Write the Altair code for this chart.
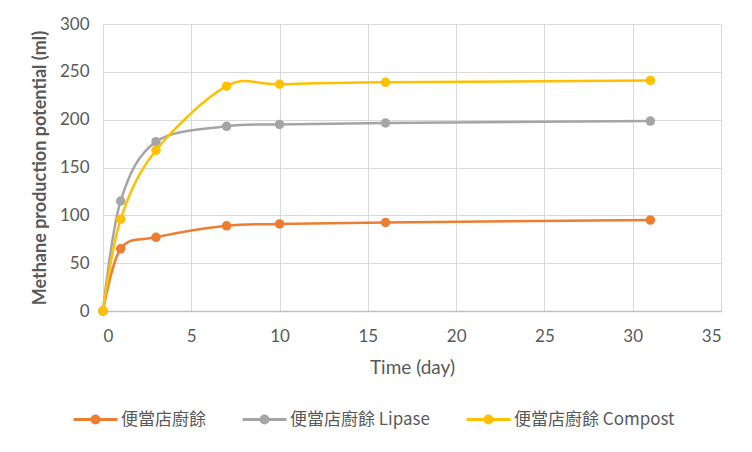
import altair as alt
import pandas as pd

days = [0, 1, 3, 7, 10, 16, 31]
series_names = ["便當店廚餘", "便當店廚餘 Lipase", "便當店廚餘 Compost"]
food_waste = [0, 65, 77, 89, 91, 92.5, 95]
lipase = [0, 115, 177, 193, 195, 196.5, 198.5]
compost = [0, 96, 168, 235, 237, 239, 241]
colors = ["#ED7D31", "#A5A5A5", "#FFC000"]

rows = []
for name, vals in zip(series_names, [food_waste, lipase, compost]):
    for d, v in zip(days, vals):
        rows.append({"day": d, "value": v, "series": name})
df = pd.DataFrame(rows)

legend_path = ("M-1,0H1"
               "M-0.159,0A0.159,0.159 0 1,0 0.159,0A0.159,0.159 0 1,0 -0.159,0"
               "M-0.068,0A0.068,0.068 0 1,0 0.068,0A0.068,0.068 0 1,0 -0.068,0")

color = alt.Color(
    "series:N",
    scale=alt.Scale(domain=series_names, range=colors),
    sort=series_names,
    legend=alt.Legend(
        title=None, orient="none", direction="horizontal",
        legendX=-31, legendY=372,
        symbolType=legend_path, symbolSize=1936, symbolStrokeWidth=3,
        labelFont="Noto Sans CJK TC", labelFontSize=17, labelColor="#595959",
        labelLimit=400, columnPadding=30, labelOffset=2,
    ),
)

x = alt.X("day:Q", title="Time (day)",
          scale=alt.Scale(domain=[0, 35], nice=False),
          axis=alt.Axis(values=list(range(0, 36, 5)), labelPadding=17, titlePadding=14,
                        domainColor="#BFBFBF", domainWidth=1.5))
y = alt.Y("value:Q", title="Methane production potential (ml)",
          scale=alt.Scale(domain=[0, 300], nice=False),
          axis=alt.Axis(values=list(range(0, 301, 50)), labelPadding=14, titlePadding=10,
                        domainColor="#D9D9D9", titleFontWeight="bold"))

base = alt.Chart(df).encode(x=x, y=y, color=color,
                            order=alt.Order("day:Q"))

lines = base.mark_line(interpolate="cardinal", strokeWidth=2.5)
points = base.mark_circle(size=90, opacity=1)
# draw series in order so compost is on top
layers = []
for name in series_names:
    layers.append(lines.transform_filter(alt.datum.series == name))
    layers.append(points.transform_filter(alt.datum.series == name))

chart = alt.layer(*layers).properties(
    width=618, height=287,
    autosize=alt.AutoSizeParams(type="none"),
    padding={"left": 95, "top": 16, "right": 23, "bottom": 133},
).configure_axis(
    grid=True, gridColor="#D9D9D9", gridWidth=1, ticks=False,
    labelFont="Lato", labelFontSize=17, labelColor="#595959",
    titleFont="Lato", titleFontSize=19, titleColor="#595959", titleFontWeight="normal",
).configure_axisY(titleFontWeight="bold", titleFontSize=18).configure_view(stroke=None)

chart.save("out.html", embed_options={"renderer": "svg", "actions": False})
